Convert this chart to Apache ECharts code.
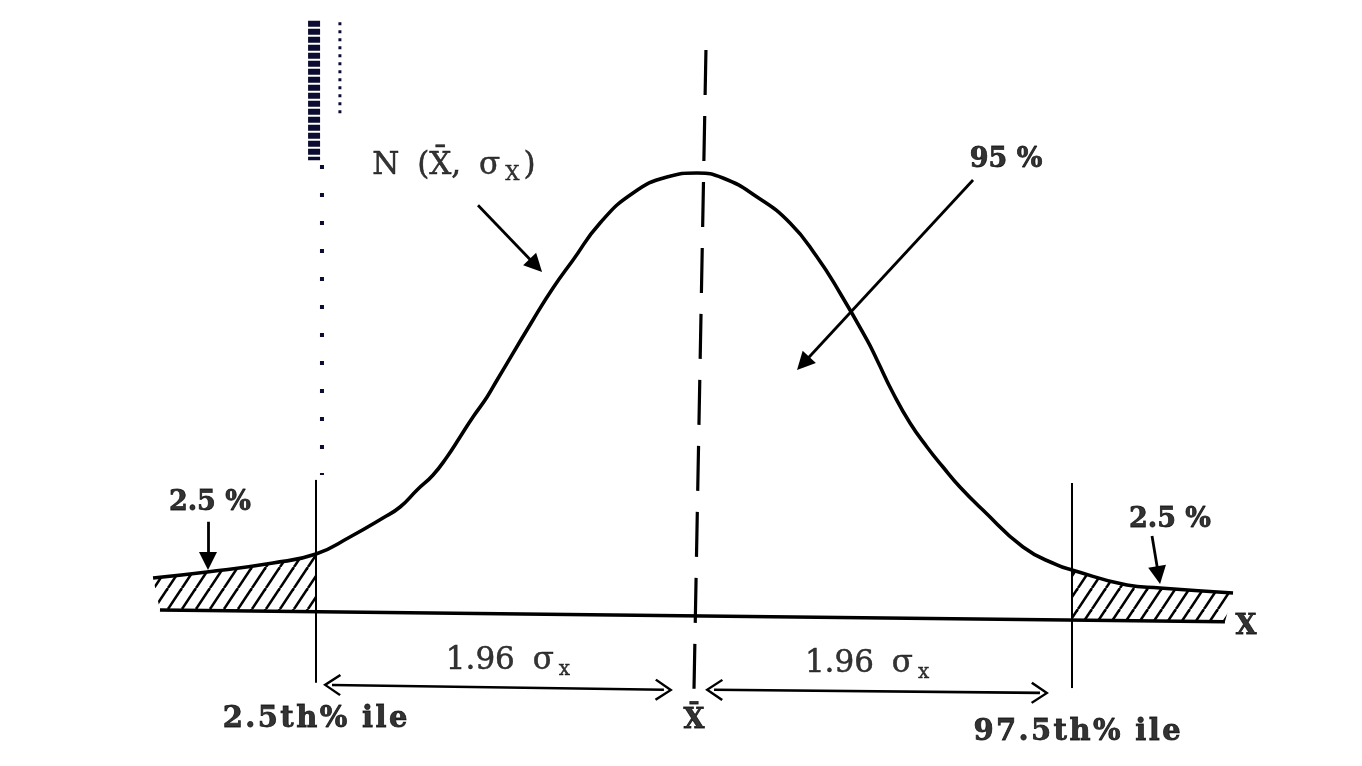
<!DOCTYPE html>
<html><head><meta charset="utf-8">
<script src="https://cdn.jsdelivr.net/npm/echarts@6/dist/echarts.min.js"></script>
<style>html,body{margin:0;padding:0;background:#fff}#c{width:1362px;height:766px}</style>
</head><body><div id="c"></div>
<script>
// x in units of sigma from the mean, y in relative density (peak = 100)
const curveZ = [-2.805, -2.525, -2.183, -1.96, -1.784, -1.613, -1.524, -1.436, -1.353, -1.281, -1.213, -1.146, -1.073, -1.021, -0.835, -0.731, -0.627, -0.487, -0.316, -0.140, 0.016, 0.150, 0.327, 0.498, 0.638, 0.757, 0.897, 0.949, 1.032, 1.120, 1.208, 1.291, 1.379, 1.498, 1.706, 1.882, 1.96, 2.245, 2.416, 2.795];
const curveH = [8.16, 9.52, 11.56, 13.6, 17.46, 21.77, 24.26, 28.12, 31.52, 35.60, 40.14, 44.67, 49.21, 53.06, 66.67, 73.92, 80.27, 88.66, 95.46, 99.09, 100, 98.87, 94.56, 88.66, 80.95, 72.79, 62.13, 57.60, 50.11, 43.31, 37.87, 33.33, 28.80, 23.58, 15.19, 11.11, 9.98, 6.58, 5.90, 4.76];
const baseZ = [-2.769, 2.753];
const baseH = [0.91, -1.75];
const cutZ = [-1.96, 1.96];
const cutTopH = [30.4, 29.7];
const cutBottomH = [-15.6, -16.8];
const meanZ = [0.062, 0];
const meanH = [127.9, -17.2];
// pointer arrows [fromZ, fromH, toZ, toH]
const pointerArrows = [
  [-1.120, 92.7, -0.820, 79.0],
  [1.447, 98.4, 0.566, 56.8],
  [-2.520, 20.9, -2.520, 12.0],
  [2.375, 17.7, 2.409, 8.8]
];
// dimension arrows (1.96 sigma spans)
const spanArrows = [
  [-1.877, -16.1, -0.156, -17.2],
  [0.104, -17.2, 1.794, -17.9]
];
// label pieces: [text, style] pairs
const labelParts = [
  [['N', 'm'], [' (X\u0304,', 'm'], [' σ', 'm'], ['X', 's'], [')', 'm']],
  [['95 %', 'b']],
  [['2.5 %', 'b']],
  [['2.5 %', 'b']],
  [['1.96', 'm'], [' σ', 'm'], ['x', 's']],
  [['1.96', 'm'], [' σ', 'm'], ['x', 's']],
  [['2.5th% ile', 'w']],
  [['X\u0304', 'b']],
  [['97.5th% ile', 'w']],
  [['X', 'b']]
];
const labelZ = [-1.245, 1.618, -2.510, 2.468, -0.975, 0.887, -1.965, 0, 1.986, 2.862];
const labelH = [101.6, 102.9, 25.2, 21.3, -10.6, -11.3, -24.0, -24.2, -26.8, -2.9];
// scan specks column on the left
const speckZ = [-1.970, -1.836, -1.929];
const speckTopH = [134.5, 134.2, 101.8];
const speckBottomH = [102.9, 113.2, 31.5];

function baseAt(z){ return baseH[0] + (z - baseZ[0]) * (baseH[1] - baseH[0]) / (baseZ[1] - baseZ[0]); }
const curve = curveZ.map((z,i)=>[z, curveH[i]]);
const leftTail = curve.filter(p=>p[0] <= cutZ[0]);
const rightTail = curve.filter(p=>p[0] >= cutZ[1]);
const leftPoly = leftTail.concat([[cutZ[0], baseAt(cutZ[0])], [baseZ[0], baseH[0]]]);
const rz = Math.min(rightTail[rightTail.length-1][0], baseZ[1]);
const rightPoly = rightTail.concat([[rz, baseAt(rz)], [cutZ[1], baseAt(cutZ[1])]]);
const polys = [leftPoly, rightPoly];

const hc = document.createElement('canvas'); hc.width = 14; hc.height = 21;
const g = hc.getContext('2d'); g.strokeStyle = '#000'; g.lineWidth = 2.6;
for (const k of [-1,0,1]) { g.beginPath(); g.moveTo(k*14, 21); g.lineTo(k*14+14, 0); g.stroke(); }
const hatch = { image: hc, repeat: 'repeat' };

const chev = 'path://M10,0 L20,11 L18.3,12 L10,2.8 L1.7,12 L0,11 Z';
const serif = 'DejaVu Serif';

// wide-spaced words get each character as its own token
function fmt(parts){
  return parts.map(([t, s]) => s === 'w' ? t.split('').map(c => '{w|' + c + '}').join('') : '{' + s + '|' + t + '}').join('');
}

const series = [];
speckZ.forEach((z,i)=>{
  series.push({type:'line', silent:true, symbol:'none', data:[[z, speckTopH[i]],[z, speckBottomH[i]]],
    lineStyle:{color:'#0c0c30', width:[12,3,4][i], type:[[6,2],[3,5],[4,24]][i]}});
});
series.push({type:'custom', silent:true, clip:false,
  data: polys.map(p=>p[0]),
  renderItem:(params, api)=>({type:'polygon', shape:{points: polys[params.dataIndex].map(p=>api.coord(p))}, style:{fill:hatch, stroke:null}})
});
series.push({type:'line', silent:true, symbol:'none', data: baseZ.map((z,i)=>[z, baseH[i]]), lineStyle:{color:'#000', width:3.6}});
series.push({type:'line', silent:true, symbol:'none', smooth:0.5, data: curve, lineStyle:{color:'#000', width:3.6}});
cutZ.forEach((z,i)=>{
  series.push({type:'line', silent:true, symbol:'none', data:[[z, cutTopH[i]],[z, cutBottomH[i]]], lineStyle:{color:'#000', width:2}});
});
series.push({type:'line', silent:true, symbol:'none', data: meanZ.map((z,i)=>[z, meanH[i]]), lineStyle:{color:'#000', width:3.2, type:[45,21]}});
series.push({type:'lines', coordinateSystem:'cartesian2d', silent:true, symbol:['none','triangle'], symbolSize:18,
  lineStyle:{color:'#000', width:2.8, opacity:1},
  data: pointerArrows.map(a=>({coords:[[a[0],a[1]],[a[2],a[3]]]}))});
series.push({type:'lines', coordinateSystem:'cartesian2d', silent:true, symbol:[chev, chev], symbolSize:[[22,18],[22,18]],
  itemStyle:{color:'#000'},
  lineStyle:{color:'#000', width:2.6, opacity:1},
  data: spanArrows.map(a=>({coords:[[a[0],a[1]],[a[2],a[3]]]}))});
series.push({type:'scatter', silent:true, symbolSize:0, itemStyle:{color:'#000'},
  data: labelZ.map((z,i)=>({value:[z, labelH[i]], label:{formatter: fmt(labelParts[i])}})),
  label:{show:true, position:[0,0], align:'center', verticalAlign:'middle', color:'#000',
    rich:{
      m:{fontFamily:serif, fontSize:31, color:'#000', lineHeight:38, padding:[0,4,0,4], textBorderColor:'#000', textBorderWidth:0.5},
      s:{fontFamily:serif, fontSize:20, color:'#000', lineHeight:38, verticalAlign:'bottom', padding:[18,0,0,1], textBorderColor:'#000', textBorderWidth:0.4},
      b:{fontFamily:serif, fontSize:27, fontWeight:'bold', color:'#000', textBorderColor:'#000', textBorderWidth:0.8},
      w:{fontFamily:serif, fontSize:29, fontWeight:'bold', color:'#000', padding:[0,1.2,0,1.2], textBorderColor:'#000', textBorderWidth:0.8}
    }}
});

const chart = echarts.init(document.getElementById('c'), null, {renderer:'canvas'});
chart.setOption({
  animation:false,
  backgroundColor:'#fff',
  textStyle:{color:'#000'},
  grid:{left:19, right:12.3, top:1, bottom:2.1},
  xAxis:{type:'value', min:-3.5, max:3.4, show:false},
  yAxis:{type:'value', min:-34, max:139, show:false},
  series: series
});
</script></body></html>
